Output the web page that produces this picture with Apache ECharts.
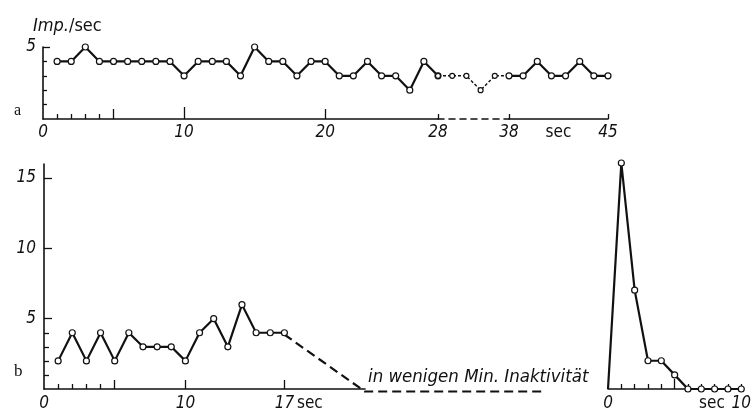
<!DOCTYPE html>
<html>
<head>
<meta charset="utf-8">
<script src="https://cdn.jsdelivr.net/npm/echarts@6/dist/echarts.min.js"></script>
<style>html,body{margin:0;padding:0;background:#fff;}#c{width:754px;height:412px;}</style>
</head>
<body>
<div id="c"></div>
<script>
// ---- Data ----
// Panel a: impulses per second
const aSec1 = [1,2,3,4,5,6,7,8,9,10,11,12,13,14,15,16,17,18,19,20,21,22,23,24,25,26,27,28];
const aImp1 = [4,4,5,4,4,4,4,4,4,3,4,4,4,3,5,4,4,3,4,4,3,3,4,3,3,2,4,3];
const aSec2 = [28,30,32,34,36,38];          // compressed (broken) interval
const aImp2 = [3,3,3,2,3,3];
const aSec3 = [38,39,40,41,42,43,44,45];
const aImp3 = [3,3,4,3,3,4,3,3];
// Panel b: left part
const bSec1 = [1,2,3,4,5,6,7,8,9,10,11,12,13,14,15,16,17];
const bImp1 = [2,4,2,4,2,4,3,3,3,2,4,5,3,6,4,4,4];
const bInactSec = [17,22.7,35.3];            // dashed decay into inactivity
const bInactImp = [4,0,0];
// Panel b: right part (after minutes of inactivity)
const cSec = [0,1,2,3,4,5,6,7,8,9,10];
const cImp = [0,16,7,2,2,1,0,0,0,0,0];
// Tick labels
const aLabelValsA = [0,10,20,28];  const aLabelsA = ['0','10','20','28'];
const aLabelValsC = [38,41.5,45];  const aLabelsC = ['38','sec','45'];
const aYLabelVals = [5];           const aYLabels = ['5'];
const bLabelVals = [0,10,17,18.8]; const bLabels = ['0','10','17','sec'];
const bYLabelVals = [5,10,15];     const bYLabels = ['5','10','15'];
const cLabelVals = [0,7.8,10];     const cLabels = ['0','sec','10'];
const yTitle = ['Imp.', '/sec'];
const panelA = 'a', panelB = 'b';
const inactText = 'in wenigen Min. Inaktivität';

// ---- Styling ----
const FONT = "'Liberation Sans Narrow','DejaVu Sans Condensed','Roboto Condensed','Liberation Sans',sans-serif";
const INK = '#111';
const rich = {
  i: {fontFamily: FONT, fontStyle: 'italic', fontSize: 17, color: INK},
  n: {fontFamily: FONT, fontSize: 17, color: INK}
};
function fmt(vals, labels) {
  return function (v) {
    for (let k = 0; k < vals.length; k++) {
      if (Math.abs(vals[k] - v) < 1e-6) {
        const t = labels[k];
        return /^[0-9]+$/.test(t) ? '{i|' + t + '}' : '{n|' + t + '}';
      }
    }
    return '';
  };
}
function pairs(xs, ys) { return xs.map((x, k) => [x, ys[k]]); }

const xAxes = [], yAxes = [];
function addX(o) {
  const ax = Object.assign({
    type: 'value', splitLine: {show: false}, position: 'bottom',
    axisLine: {show: false}, axisTick: {show: false}, axisLabel: {show: false}
  }, o);
  xAxes.push(ax); return xAxes.length - 1;
}
function addY(o) {
  const ax = Object.assign({
    type: 'value', splitLine: {show: false}, position: 'left',
    axisLine: {show: false}, axisTick: {show: false}, axisLabel: {show: false}
  }, o);
  yAxes.push(ax); return yAxes.length - 1;
}
const solidLine = {show: true, onZero: false, lineStyle: {color: INK, width: 1.6}};
function ticks(vals, len) {
  return {show: true, inside: true, length: len, customValues: vals, lineStyle: {color: INK, width: 1.3}};
}
function labels(vals, names, margin) {
  return {show: true, customValues: vals, margin: margin, formatter: fmt(vals, names), rich: rich};
}

// Grid 0: panel a, 0..28
const xa0 = addX({gridIndex: 0, min: 0, max: 28, axisLine: solidLine, axisTick: ticks([1,2,3,4,28], 5), axisLabel: labels(aLabelValsA, aLabelsA, 5)});
addX({gridIndex: 0, min: 0, max: 28, axisTick: ticks([5,20], 10)});
addX({gridIndex: 0, min: 0, max: 28, axisTick: ticks([10], 12)});
const ya0 = addY({gridIndex: 0, min: 0, max: 5, axisLine: solidLine, axisTick: ticks([1,2,3,4], 4), axisLabel: labels(aYLabelVals, aYLabels, 7)});
addY({gridIndex: 0, min: 0, max: 5, axisTick: ticks([5], 7)});
// Grid 1: broken interval 28..38
const xa1 = addX({gridIndex: 1, min: 28, max: 38, axisLine: {show: true, onZero: false, lineStyle: {color: INK, width: 1.6, type: [6, 5]}}});
const ya1 = addY({gridIndex: 1, min: 0, max: 5});
// Grid 2: 38..45
const xa2 = addX({gridIndex: 2, min: 38, max: 45, axisLine: solidLine, axisTick: ticks([38,45], 5), axisLabel: labels(aLabelValsC, aLabelsC, 5)});
const ya2 = addY({gridIndex: 2, min: 0, max: 5});
// Grid 3: panel b left
const xb = addX({gridIndex: 3, min: 0, max: bInactSec[1], axisLine: solidLine, axisTick: ticks([1,2,3,4], 5), axisLabel: labels(bLabelVals, bLabels, 6)});
addX({gridIndex: 3, min: 0, max: bInactSec[1], axisTick: ticks([5,10,17], 9)});
const yb = addY({gridIndex: 3, min: 0, max: 16, axisLine: solidLine, axisTick: ticks([1,2,3,4], 5), axisLabel: labels(bYLabelVals, bYLabels, 8)});
addY({gridIndex: 3, min: 0, max: 16, axisTick: ticks([5,10,15], 8)});
// Grid 4: panel b right
const xc = addX({gridIndex: 4, min: 0, max: 10, axisLine: solidLine, axisTick: ticks([1,2,3,4,6,7,8,9,10], 5), axisLabel: labels(cLabelVals, cLabels, 6)});
addX({gridIndex: 4, min: 0, max: 10, axisTick: ticks([5], 10)});
const yc = addY({gridIndex: 4, min: 0, max: 16});
// Grid 5: same scale as grid 3, extended to the end of the inactivity dash
const xi = addX({gridIndex: 5, min: 0, max: bInactSec[2]});
const yi = addY({gridIndex: 5, min: 0, max: 16});

const sym = {symbol: 'circle', symbolSize: 6, itemStyle: {color: '#fff', borderColor: INK, borderWidth: 1.2}};
function lineSeries(xIdx, yIdx, data, extra) {
  return Object.assign({
    type: 'line', xAxisIndex: xIdx, yAxisIndex: yIdx, data: data,
    showAllSymbol: true, lineStyle: {color: INK, width: 2.2}, z: 5, clip: false
  }, sym, extra || {});
}

const cData = pairs(cSec, cImp).map((p, k) => k === 0 ? {value: p, symbol: 'none'} : p);
const unit = 321 / bInactSec[1];

const option = {
  animation: false,
  backgroundColor: '#fff',
  grid: [
    {left: 43, top: 47, width: 395, height: 72},
    {left: 438, top: 47, width: 71, height: 72},
    {left: 509, top: 47, width: 99, height: 72},
    {left: 44, top: 164, width: 321, height: 228},
    {left: 608, top: 163, width: 141, height: 228},
    {left: 44, top: 163.5, width: Math.round(unit * bInactSec[2]), height: 228}
  ],
  xAxis: xAxes,
  yAxis: yAxes,
  title: [
    {left: 28, top: 12, text: '{i|' + yTitle[0] + '}{n|' + yTitle[1] + '}', textStyle: {fontWeight: 'normal', rich: {
      i: {fontFamily: FONT, fontStyle: 'italic', fontWeight: 'normal', fontSize: 18, color: INK},
      n: {fontFamily: FONT, fontWeight: 'normal', fontSize: 18, color: INK}}}},
    {left: 9, top: 98, text: panelA, textStyle: {fontFamily: "'Liberation Serif',serif", fontSize: 16, fontWeight: 'normal', color: INK}},
    {left: 9, top: 358, text: panelB, textStyle: {fontFamily: "'Liberation Serif',serif", fontSize: 17, fontWeight: 'normal', color: INK}},
    {left: 363, top: 363, text: inactText, textStyle: {fontFamily: FONT, fontStyle: 'italic', fontSize: 18.5, fontWeight: 'normal', color: INK}}
  ],
  series: [
    lineSeries(xa0, ya0, pairs(aSec1, aImp1)),
    lineSeries(xa1, ya1, pairs(aSec2, aImp2), {lineStyle: {color: INK, width: 1.4, type: [3, 2]}, symbolSize: 5}),
    lineSeries(xa2, ya2, pairs(aSec3, aImp3)),
    lineSeries(xb, yb, pairs(bSec1, bImp1)),
    lineSeries(xi, yi, pairs(bInactSec, bInactImp), {symbol: 'none', z: 4, lineStyle: {color: INK, width: 2.2, type: [9, 5]}}),
    lineSeries(xc, yc, cData)
  ]
};
echarts.init(document.getElementById('c'), null, {renderer: 'canvas'}).setOption(option);
</script>
</body>
</html>
